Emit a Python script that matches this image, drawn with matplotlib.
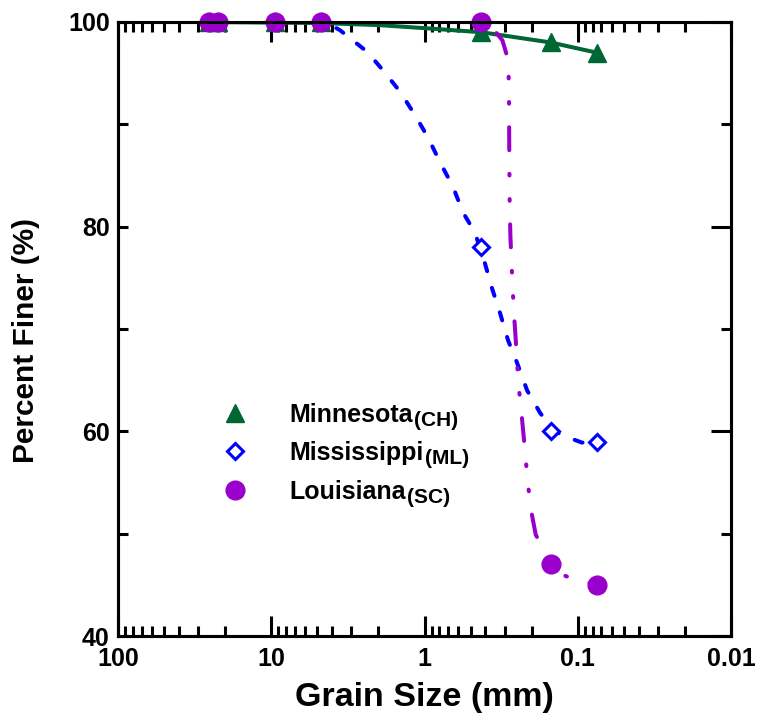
import matplotlib
matplotlib.use("Agg")
import matplotlib.pyplot as plt
from matplotlib.ticker import LogLocator, FixedLocator, NullFormatter

plt.rcParams['font.family'] = ['Liberation Sans', 'DejaVu Sans']
plt.rcParams['font.weight'] = 'bold'
plt.rcParams['lines.scale_dashes'] = False

# ---- data (grain size in mm, percent finer) ----
sieve_sizes = [25.4, 22.2, 9.5, 4.75, 0.425, 0.15, 0.075]
minnesota = [100, 100, 100, 100, 99, 98, 97]
mississippi = [100, 100, 100, 100, 78, 60, 59]
louisiana = [100, 100, 100, 100, 100, 47, 45]

# fitted curves
mn_fit_size = [25.4, 4.75, 2.0, 1.0, 0.425, 0.15, 0.075]
mn_fit = [100, 99.9, 99.7, 99.4, 99.0, 98.0, 97.0]

ms_fit_size = [25.4, 4.75, 4.2, 3.56, 2.37, 1.87, 1.445, 1.153, 0.948, 0.792, 0.652,
               0.561, 0.468, 0.403, 0.363, 0.322, 0.285, 0.249, 0.214, 0.176, 0.145,
               0.125, 0.094, 0.075]
ms_fit = [100, 100, 99.8, 99.2, 97.1, 95.3, 93.2, 90.9, 88.7, 86.3, 83.9,
          81.4, 79.4, 76.4, 74.0, 71.6, 68.9, 66.7, 64.0, 61.8, 60.1,
          59.6, 58.9, 59.0]

la_fit_size = [25.4, 0.425, 0.36, 0.31, 0.287, 0.281, 0.280, 0.278, 0.275, 0.269,
               0.262, 0.254, 0.245, 0.232, 0.222, 0.212, 0.200, 0.188, 0.165, 0.146,
               0.122, 0.095, 0.075]
la_fit = [100, 100, 99.4, 98.2, 96.5, 94.0, 88.0, 82.0, 79.0, 75.7,
          72.0, 69.0, 65.0, 61.5, 58.5, 55.0, 52.0, 49.9, 48.3, 47.0,
          45.9, 45.3, 45.1]

names = ['Minnesota', 'Mississippi', 'Louisiana']
soil_classes = ['(CH)', '(ML)', '(SC)']

x_ticks = [100, 10, 1, 0.1, 0.01]
x_tick_labels = ['100', '10', '1', '0.1', '0.01']
y_major = [40, 60, 80, 100]
y_minor = [50, 70, 90]

green = '#006633'
blue = '#0000FF'
purple = '#9900CC'

fig = plt.figure(figsize=(7.63, 7.19), dpi=100)
ax = fig.add_axes([118 / 763, 1 - 636 / 719, (731 - 118) / 763, (636 - 22) / 719])

# curves
ax.plot(mn_fit_size, mn_fit, color=green, lw=2.9, solid_capstyle='round', zorder=2)
ax.plot(ms_fit_size, ms_fit, color=blue, lw=2.9, linestyle=(0, (6, 12.5)),
        dash_capstyle='round', zorder=2)
ax.plot(la_fit_size, la_fit, color=purple, lw=2.9,
        linestyle=(0, (16.5, 17.0, 1.2, 17.0, 1.2, 17.0)),
        dash_capstyle='round', zorder=3)

# markers
ax.plot(sieve_sizes, minnesota, linestyle='none', marker='^', ms=13, color=green,
        label=names[0], zorder=4, clip_on=False)
ax.plot(sieve_sizes, mississippi, linestyle='none', marker='D', ms=8.5, mew=2.2,
        mfc='white', mec=blue, label=names[1], zorder=5, clip_on=False)
ax.plot(sieve_sizes, louisiana, linestyle='none', marker='o', ms=13.5, color=purple,
        label=names[2], zorder=6, clip_on=False)

ax.set_xscale('log')
ax.set_xlim(100, 0.01)
ax.set_ylim(40, 100)

ax.xaxis.set_major_locator(FixedLocator(x_ticks))
ax.set_xticklabels(x_tick_labels)
ax.xaxis.set_minor_locator(LogLocator(base=10, subs=range(2, 10), numticks=20))
ax.xaxis.set_minor_formatter(NullFormatter())
ax.yaxis.set_major_locator(FixedLocator(y_major))
ax.yaxis.set_minor_locator(FixedLocator(y_minor))

for sp in ax.spines.values():
    sp.set_linewidth(2.2)
ax.tick_params(which='both', direction='in', top=True, right=False, width=2.2)
ax.tick_params(axis='x', which='major', length=14.5)
ax.tick_params(axis='x', which='minor', length=7.5)
ax.tick_params(axis='y', which='both', length=7.5)
ax.tick_params(axis='x', which='major', labelsize=18, pad=8)
ax.tick_params(axis='y', which='major', labelsize=18, pad=6)
for t in ax.get_xticklabels() + ax.get_yticklabels():
    t.set_fontweight('bold')

# right-hand y ticks (long major, short minor)
ax2 = ax.twinx()
ax2.set_ylim(40, 100)
ax2.yaxis.set_major_locator(FixedLocator(y_major))
ax2.yaxis.set_minor_locator(FixedLocator(y_minor))
ax2.tick_params(axis='y', which='both', direction='in', width=2.2, labelright=False)
ax2.tick_params(axis='y', which='major', length=14.5)
ax2.tick_params(axis='y', which='minor', length=7.5)
for sp in ax2.spines.values():
    sp.set_linewidth(2.2)

ax.set_xlabel('Grain Size (mm)', fontsize=24.5, fontweight='bold', labelpad=8)
ax.set_ylabel('Percent Finer (%)', fontsize=21.5, fontweight='bold')
ax.yaxis.set_label_coords(-0.127, 0.482)

leg = ax.legend(loc='upper left', bbox_to_anchor=(0.17, 0.380), frameon=False,
                prop={'size': 18, 'weight': 'bold'}, handlelength=1.0,
                handletextpad=1.7, labelspacing=0.58, borderpad=0, borderaxespad=0,
                numpoints=1)
leg.set_zorder(8)
for txt, sub in zip(leg.get_texts(), soil_classes):
    ax.annotate(sub, xy=(1, 0), xycoords=txt, xytext=(0.5, 0.5),
                textcoords='offset points', va='baseline', ha='left',
                fontsize=15, fontweight='bold', zorder=10)

fig.canvas.draw()
fig.savefig('out.png', dpi=100)
